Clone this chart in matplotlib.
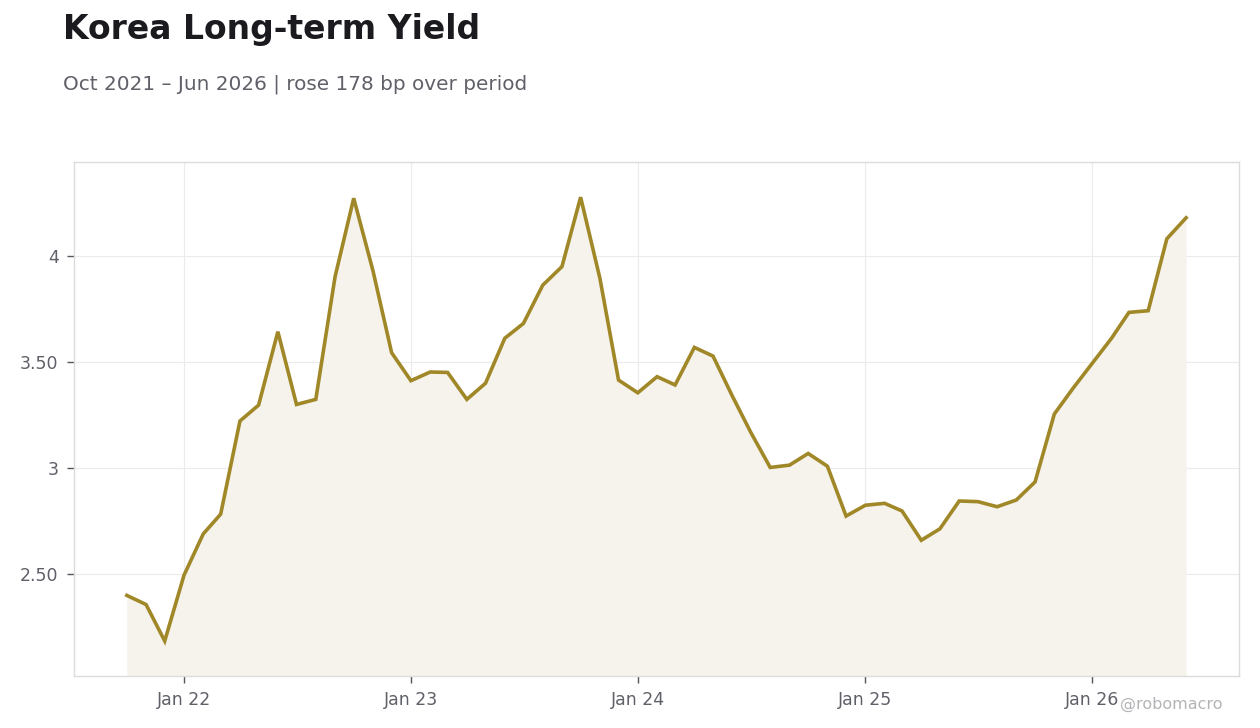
import matplotlib
matplotlib.use("Agg")
import matplotlib.pyplot as plt
import matplotlib.dates as mdates
import pandas as pd

# monthly long-term yield, Oct 2021 .. Jun 2026
months = pd.date_range("2021-10-01", "2026-06-01", freq="MS")
yields = [
    2.40, 2.357, 2.185,                                                   # 2021
    2.495, 2.69, 2.783, 3.222, 3.297, 3.643, 3.30, 3.324, 3.902, 4.272, 3.93, 3.544,   # 2022
    3.412, 3.453, 3.451, 3.324, 3.40, 3.612, 3.682, 3.862, 3.95, 4.277, 3.895, 3.415,  # 2023
    3.355, 3.431, 3.392, 3.569, 3.528, 3.34, 3.167, 3.003, 3.014, 3.069, 3.009, 2.774, # 2024
    2.825, 2.834, 2.798, 2.66, 2.714, 2.845, 2.842, 2.818, 2.85, 2.935, 3.255, 3.376,  # 2025
    3.494, 3.612, 3.734, 3.742, 4.081, 4.18,                              # 2026
]
yticks = [2.5, 3.0, 3.5, 4.0]
ytick_labels = ["2.50", "3", "3.50", "4"]

title = "Korea Long-term Yield"
subtitle = "Oct 2021 – Jun 2026 | rose 178 bp over period"

line_col = "#a08828"
fill_col = "#f6f3ec"
text_col = "#5f6068"

fig = plt.figure(figsize=(12.6, 7.28), dpi=100)
ax = fig.add_axes([0.0587, 0.0714, 0.9246, 0.7061])

ax.fill_between(months, yields, 2.0, color=fill_col, lw=0)
ax.plot(months, yields, color=line_col, lw=2.6, solid_joinstyle="miter")

ax.set_xlim(pd.Timestamp("2021-07-08"), pd.Timestamp("2026-08-25"))
ax.set_ylim(2.02, 4.443)

ax.xaxis.set_major_locator(mdates.YearLocator())
ax.xaxis.set_major_formatter(mdates.DateFormatter("Jan %y"))
ax.set_yticks(yticks)
ax.set_yticklabels(ytick_labels)

ax.grid(True, color="#ebebeb", lw=0.8)
ax.set_axisbelow(True)
for s in ax.spines.values():
    s.set_color("#dcdcdc")
    s.set_linewidth(1.0)
ax.tick_params(axis="both", colors="#555560", labelcolor=text_col, labelsize=12.5,
               length=5, width=1)
ax.tick_params(axis="x", pad=6)
ax.tick_params(axis="y", pad=6)

fig.text(0.05, 1 - 13 / 728, title, fontsize=23.8, fontweight="bold",
         color="#1a1a1f", va="top", ha="left")
fig.text(0.05, 1 - 75 / 728, subtitle, fontsize=14.4, color=text_col,
         va="top", ha="left")
fig.text(0.97, 1 - 704 / 728, "@robomacro", fontsize=11.5, color="#b4b4b8",
         ha="right", va="center")

fig.savefig("out.png", dpi=100)
